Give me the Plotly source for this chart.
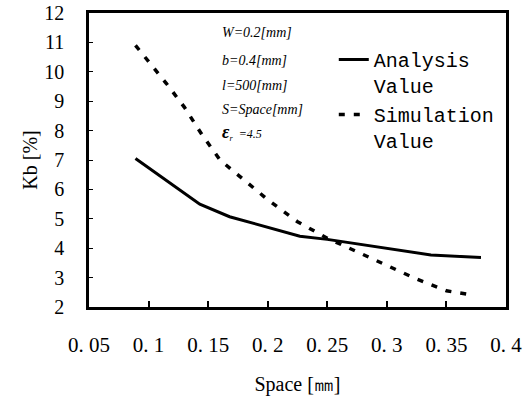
import plotly.graph_objects as go

# ---- data ----
space_analysis = [0.089, 0.143, 0.168, 0.2, 0.227, 0.25, 0.275, 0.3, 0.337, 0.379]
kb_analysis = [7.05, 5.5, 5.07, 4.72, 4.41, 4.3, 4.15, 4.0, 3.77, 3.68]

space_sim = [0.089, 0.1, 0.115, 0.13, 0.145, 0.16, 0.18, 0.2, 0.225, 0.25, 0.275, 0.3, 0.325, 0.35, 0.373]
kb_sim = [10.9, 10.35, 9.6, 8.8, 7.85, 7.0, 6.32, 5.65, 4.9, 4.34, 3.88, 3.4, 2.95, 2.55, 2.4]

x_tick_vals = [0.05, 0.1, 0.15, 0.2, 0.25, 0.3, 0.35, 0.4]
x_tick_text = ["0. 05", "0. 1", "0. 15", "0. 2", "0. 25", "0. 3", "0. 35", "0. 4"]
y_tick_vals = [2, 3, 4, 5, 6, 7, 8, 9, 10, 11, 12]

series_names = ["Analysis<br>Value", "Simulation<br>Value"]
param_lines = ["W=0.2[mm]", "b=0.4[mm]", "l=500[mm]", "S=Space[mm]"]
param_y = [11.32, 10.40, 9.55, 8.73]
eps_text = "<span style='font-size:18px'><b>ε</b></span><sub>r</sub>  =4.5"
eps_y = 7.92
param_x = 0.160

serif = "Liberation Serif"

fig = go.Figure()
fig.add_trace(go.Scatter(
    x=space_analysis, y=kb_analysis, mode="lines", name=series_names[0],
    line=dict(color="black", width=3)))
fig.add_trace(go.Scatter(
    x=space_sim, y=kb_sim, mode="lines", name=series_names[1],
    line=dict(color="black", width=3.5, dash="6px,9px")))

for txt, yy in zip(param_lines, param_y):
    fig.add_annotation(x=param_x, y=yy, text=txt, showarrow=False,
                       xanchor="left", yanchor="middle",
                       font=dict(family=serif, size=14, color="black", style="italic"))
fig.add_annotation(x=param_x, y=eps_y, text=eps_text, showarrow=False,
                   xanchor="left", yanchor="middle",
                   font=dict(family=serif, size=12, color="black", style="italic"))

fig.update_layout(
    width=525, height=396,
    margin=dict(l=89, r=19, t=13, b=89),
    paper_bgcolor="white", plot_bgcolor="white",
    showlegend=True,
    legend=dict(x=0.587, y=0.908, xanchor="left", yanchor="top",
                bgcolor="rgba(0,0,0,0)", borderwidth=0,
                font=dict(family="Liberation Mono", size=20, color="black"),
                valign="top", tracegroupgap=0),
    font=dict(family=serif, color="black"),
)
fig.update_xaxes(
    range=[0.05, 0.4], tickvals=x_tick_vals, ticktext=x_tick_text,
    ticks="inside", ticklen=6, tickwidth=1.5, tickcolor="black",
    showline=True, linewidth=2.5, linecolor="black", mirror=True,
    showgrid=False, zeroline=False, automargin=False,
    tickfont=dict(family=serif, size=21, color="black"),
    ticklabelstandoff=17,
    title=dict(text="Space [㎜]", font=dict(family=serif, size=20, color="black"), standoff=28),
)
fig.update_yaxes(
    range=[2, 12], tickvals=y_tick_vals,
    ticks="inside", ticklen=4, tickwidth=1, tickcolor="black",
    showline=True, linewidth=2.5, linecolor="black", mirror=True,
    showgrid=False, zeroline=False, automargin=False,
    tickfont=dict(family=serif, size=20, color="black"),
    ticklabelstandoff=18,
    title=dict(text="Kb [%]", font=dict(family=serif, size=20, color="black"), standoff=2),
)

fig.write_html("out.html")
